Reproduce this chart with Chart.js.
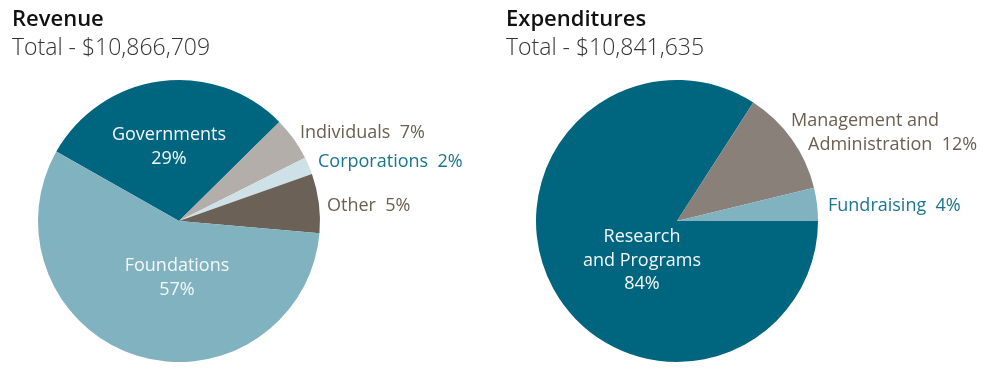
<!DOCTYPE html>
<html>
<head>
<meta charset="utf-8">
<script src="https://cdn.jsdelivr.net/npm/chart.js@4.4.1/dist/chart.umd.min.js"></script>
<style>
  html, body { margin: 0; padding: 0; background: #fff; }
  #wrap { position: relative; width: 1000px; height: 375px; }
  .box { position: absolute; top: 0; width: 500px; height: 375px; }
</style>
</head>
<body>
<div id="wrap">
  <div class="box" style="left:0"><canvas id="chartRevenue"></canvas></div>
  <div class="box" style="left:500px"><canvas id="chartExpenses"></canvas></div>
</div>
<script>
// revenue (slice sizes, in % of total)
var revenueNames = ["Governments", "Individuals", "Corporations", "Other", "Foundations"];
var revenueValues = [29.4, 5.0, 2.0, 6.8, 56.8];
var revenuePrinted = ["29%", "7%", "2%", "5%", "57%"];
var revenueColors = ["#00657f", "#b4aeaa", "#cde1e6", "#6b6157", "#80b2bf"];
var revenueTotal = "Total - $10,866,709";

// expenditures
var expenseNames = ["Research\nand Programs", "Management and\nAdministration", "Fundraising"];
var expenseValues = [84.1, 12.1, 3.8];
var expensePrinted = ["84%", "12%", "4%"];
var expenseColors = ["#00657f", "#89807a", "#80b2bf"];
var expenseTotal = "Total - $10,841,635";

var FONT = "'Open Sans', 'Noto Sans', sans-serif";
var WHITE = "#f4f8f9";
var BROWN = "#6b5f4f";
var TEAL = "#1a7590";

// where each label sits, relative to the pie centre
var revenueLabelPos = [
    { dx: -10, dy: -81, align: "center", color: WHITE, inside: true },
    { dx: 121, dy: -83, align: "left", color: BROWN },
    { dx: 139, dy: -54, align: "left", color: TEAL },
    { dx: 148, dy: -10, align: "left", color: BROWN },
    { dx: -2, dy: 50, align: "center", color: WHITE, inside: true }
];
var expenseLabelPos = [
    { dx: -35, dy: 21, align: "center", color: WHITE, inside: true },
    { dx: 114, dy: -95, align: "left", color: BROWN, indent: 17 },
    { dx: 151, dy: -10, align: "left", color: TEAL }
];

var pieLabels = {
    id: "pieLabels",
    afterDatasetsDraw: function(chart, args, opts) {
        var ctx = chart.ctx;
        var arc = chart.getDatasetMeta(0).data[0];
        var cx = arc.x, cy = arc.y;
        ctx.save();
        // heading
        ctx.textAlign = "left";
        ctx.textBaseline = "alphabetic";
        ctx.fillStyle = "#111";
        ctx.font = "600 22px " + FONT;
        ctx.fillText(opts.heading, opts.headX, 26);
        ctx.fillStyle = "#333";
        ctx.font = "300 23px " + FONT;
        ctx.fillText(opts.total, opts.headX, 55);

        ctx.font = "18px " + FONT;
        var names = chart.data.labels;
        opts.pos.forEach(function(p, i) {
            ctx.fillStyle = p.color;
            ctx.textAlign = p.align;
            var lines = names[i].split("\n");
            var pct = opts.printed[i];
            var x = cx + p.dx, y = cy + p.dy;
            if (p.inside) {
                lines.push(pct);
                lines.forEach(function(l, k) { ctx.fillText(l, x, y + k * 23.5); });
            } else {
                lines[lines.length - 1] += "  " + pct;
                lines.forEach(function(l, k) {
                    ctx.fillText(l, x + (k > 0 && p.indent ? p.indent : 0), y + k * 23.5);
                });
            }
        });
        ctx.restore();
    }
};

function makePie(id, names, values, colors, rotation, pad, opts) {
    return new Chart(document.getElementById(id).getContext("2d"), {
        type: "pie",
        data: {
            labels: names,
            datasets: [{
                data: values,
                backgroundColor: colors,
                borderWidth: 0
            }]
        },
        options: {
            responsive: true,
            maintainAspectRatio: false,
            animation: false,
            rotation: rotation,
            layout: { padding: pad },
            plugins: {
                legend: { display: false },
                tooltip: { enabled: false },
                pieLabels: opts
            }
        },
        plugins: [pieLabels]
    });
}

makePie("chartRevenue", revenueNames, revenueValues, revenueColors, -60.5,
    { left: 38, top: 80, right: 180, bottom: 13 },
    { heading: "Revenue", total: revenueTotal, headX: 12, pos: revenueLabelPos, printed: revenuePrinted });

makePie("chartExpenses", expenseNames, expenseValues, expenseColors, 90,
    { left: 36, top: 80, right: 182, bottom: 13 },
    { heading: "Expenditures", total: expenseTotal, headX: 6, pos: expenseLabelPos, printed: expensePrinted });
</script>
</body>
</html>
